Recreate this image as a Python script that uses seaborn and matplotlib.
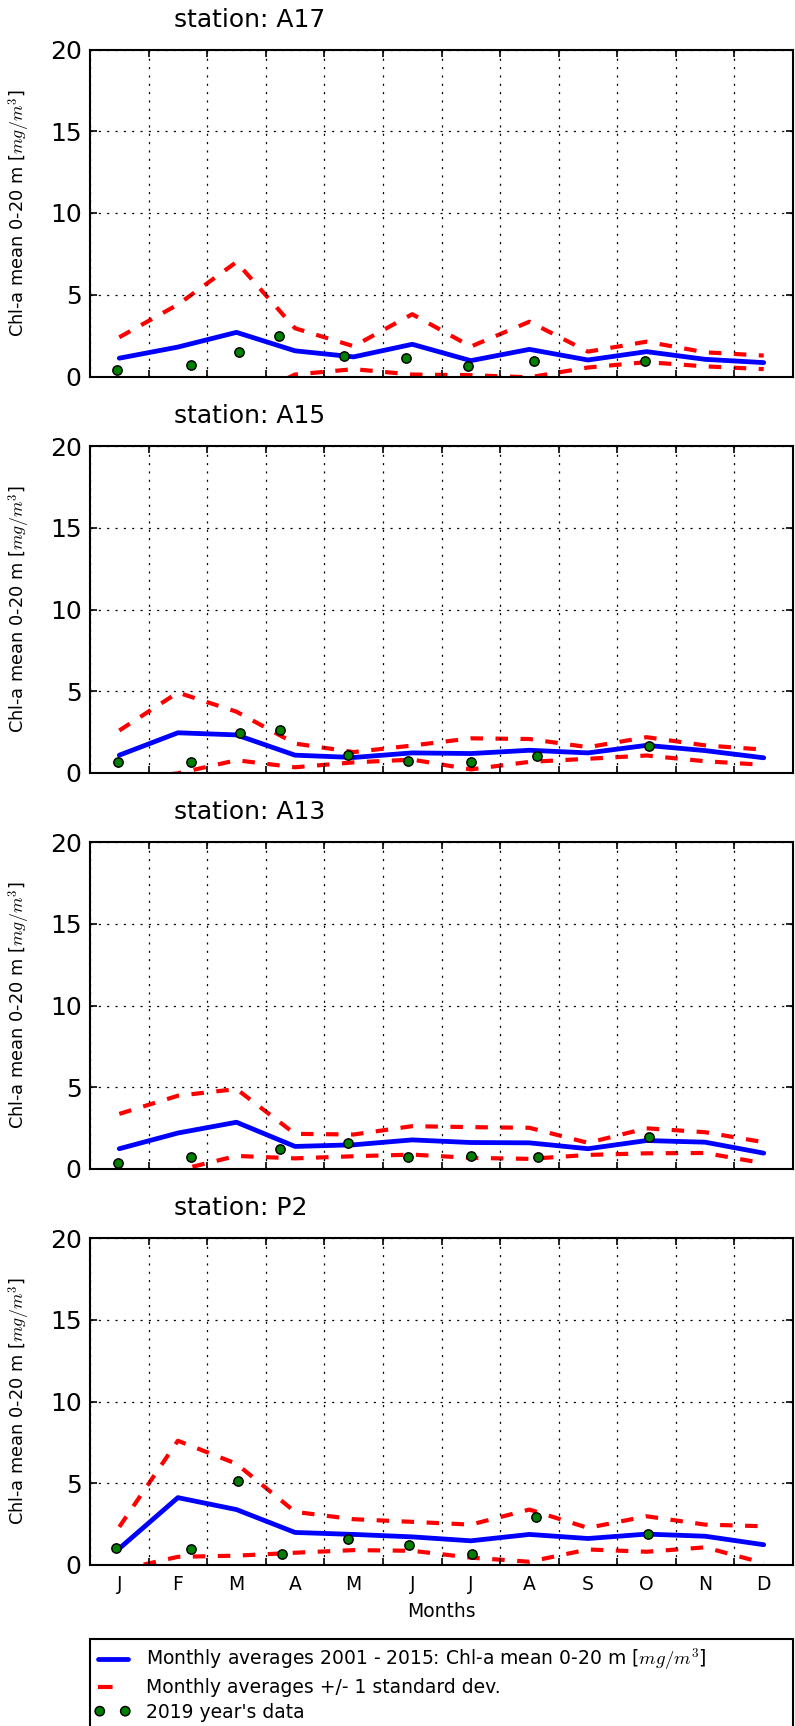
import numpy as np
import pandas as pd
import matplotlib
matplotlib.use("Agg")
import matplotlib.pyplot as plt
from matplotlib.collections import PathCollection
from matplotlib.legend_handler import HandlerPathCollection
import seaborn as sns

# ---------------- data ----------------
month_labels = ['J', 'F', 'M', 'A', 'M', 'J', 'J', 'A', 'S', 'O', 'N', 'D']
stations = ['A17', 'A15', 'A13', 'P2']

a17_mean = [1.12, 1.80, 2.70, 1.57, 1.20, 1.97, 0.97, 1.66, 1.01, 1.52, 1.05, 0.85]
a17_upper = [2.40, 4.40, 7.00, 2.95, 1.85, 3.81, 1.83, 3.35, 1.52, 2.13, 1.48, 1.28]
a17_lower = [-0.15, -0.80, -1.60, 0.12, 0.45, 0.12, 0.08, -0.05, 0.55, 0.88, 0.62, 0.45]
a17_obs_x = [0.46, 1.72, 2.54, 3.23, 4.34, 5.39, 6.46, 7.58, 9.47]
a17_obs_y = [0.41, 0.71, 1.48, 2.47, 1.26, 1.16, 0.67, 0.95, 0.97]

a15_mean = [1.09, 2.46, 2.33, 1.09, 0.95, 1.23, 1.19, 1.39, 1.23, 1.69, 1.37, 0.93]
a15_upper = [2.60, 4.92, 3.75, 1.80, 1.28, 1.68, 2.12, 2.08, 1.58, 2.19, 1.69, 1.43]
a15_lower = [-0.42, -0.02, 0.78, 0.35, 0.65, 0.82, 0.22, 0.68, 0.87, 1.07, 0.72, 0.50]
a15_obs_x = [0.47, 1.73, 2.56, 3.25, 4.41, 5.42, 6.50, 7.63, 9.54]
a15_obs_y = [0.69, 0.67, 2.44, 2.64, 1.13, 0.71, 0.65, 1.07, 1.65]

a13_mean = [1.24, 2.20, 2.86, 1.38, 1.48, 1.78, 1.62, 1.60, 1.24, 1.74, 1.64, 0.97]
a13_upper = [3.37, 4.48, 4.89, 2.15, 2.11, 2.62, 2.56, 2.52, 1.60, 2.49, 2.25, 1.64]
a13_lower = [-0.89, -0.08, 0.80, 0.65, 0.78, 0.88, 0.68, 0.62, 0.86, 0.96, 0.98, 0.35]
a13_obs_x = [0.47, 1.73, 3.25, 4.41, 5.42, 6.50, 7.64, 9.54]
a13_obs_y = [0.34, 0.71, 1.20, 1.56, 0.75, 0.77, 0.73, 1.95]

p2_mean = [1.01, 4.12, 3.39, 1.99, 1.87, 1.72, 1.48, 1.87, 1.62, 1.89, 1.76, 1.24]
p2_upper = [2.33, 7.60, 6.19, 3.25, 2.80, 2.64, 2.47, 3.39, 2.27, 2.98, 2.47, 2.37]
p2_lower = [-0.31, 0.50, 0.57, 0.75, 0.91, 0.87, 0.45, 0.20, 0.95, 0.81, 1.08, 0.12]
p2_obs_x = [0.44, 1.73, 2.52, 3.27, 4.40, 5.44, 6.52, 7.61, 9.52]
p2_obs_y = [1.01, 0.95, 5.13, 0.67, 1.60, 1.24, 0.67, 2.92, 1.87]

station_data = {
    'A17': (a17_mean, a17_upper, a17_lower, a17_obs_x, a17_obs_y),
    'A15': (a15_mean, a15_upper, a15_lower, a15_obs_x, a15_obs_y),
    'A13': (a13_mean, a13_upper, a13_lower, a13_obs_x, a13_obs_y),
    'P2': (p2_mean, p2_upper, p2_lower, p2_obs_x, p2_obs_y),
}

lbl_mean = 'Monthly averages 2001 - 2015: Chl-a mean 0-20 m [$mg/m^3$]'
lbl_sd = 'Monthly averages +/- 1 standard dev.'
lbl_obs = "2019 year's data"
ylabel = 'Chl-a mean 0-20 m [$mg/m^3$]'

# ---------------- style ----------------
sns.set_style('white')
plt.rcParams.update({
    'font.family': ['DejaVu Sans'],
    'mathtext.fontset': 'cm',
    'lines.scale_dashes': False,
    'lines.dashed_pattern': [6, 6],
    'lines.dotted_pattern': [1, 3],
    'axes.edgecolor': 'black',
    'axes.linewidth': 1.0,
    'xtick.direction': 'in',
    'ytick.direction': 'in',
    'xtick.top': True,
    'ytick.right': True,
    'xtick.bottom': True,
    'ytick.left': True,
    'xtick.color': 'black',
    'ytick.color': 'black',
    'text.color': 'black',
    'axes.labelcolor': 'black',
})

W, H = 795, 1726
fig = plt.figure(figsize=(W / 150, H / 150), dpi=150)

left = 90 / W
width = 703 / W
tops = [49.5, 446, 842, 1238]
ax_h = 327.0

month_pos = np.arange(len(month_labels)) + 0.5

axes = []
for i, st in enumerate(stations):
    top = tops[i]
    ax = fig.add_axes([left, 1 - (top + ax_h) / H, width, ax_h / H])
    axes.append(ax)
    mean, upper, lower, ox, oy = station_data[st]
    df = pd.DataFrame({'month': month_pos, 'mean': mean, 'upper': upper, 'lower': lower})
    obs = pd.DataFrame({'x': ox, 'y': oy})

    sns.lineplot(data=df, x='month', y='mean', ax=ax, color='#0000ff', lw=2.3,
                 label=lbl_mean, zorder=3)
    sns.lineplot(data=df, x='month', y='upper', ax=ax, color='#ff0000', lw=2.0,
                 linestyle='--', label=lbl_sd, zorder=2)
    sns.lineplot(data=df, x='month', y='lower', ax=ax, color='#ff0000', lw=2.0,
                 linestyle='--', label='_nolegend_', zorder=2)
    sns.scatterplot(data=obs, x='x', y='y', ax=ax, color='#008000', edgecolor='black',
                    linewidth=0.7, s=20, label=lbl_obs, zorder=4)

    if ax.get_legend() is not None:
        ax.get_legend().remove()

    ax.set_xlim(0, 12)
    ax.set_ylim(0, 20)
    ax.set_yticks([0, 5, 10, 15, 20])
    ax.set_xticks(np.arange(0, 13))
    ax.set_xticklabels([])
    ax.set_xticks(month_pos, minor=True)
    ax.set_xticklabels(month_labels, minor=True)
    ax.tick_params(which='minor', length=0, labelsize=9, pad=5)
    ax.tick_params(axis='x', which='major', length=3.5, width=0.8)
    ax.tick_params(axis='y', which='major', length=3.5, width=0.8, labelsize=12, pad=4)
    if i < len(stations) - 1:
        ax.tick_params(which='minor', labelbottom=False)
        ax.set_xlabel('')
    else:
        ax.set_xlabel('Months', fontsize=9, labelpad=3.5)

    ax.grid(True, which='major', linestyle=':', color='black', linewidth=0.6)
    ax.set_axisbelow(False)
    for sp in ax.spines.values():
        sp.set_visible(True)
        sp.set_color('black')
        sp.set_linewidth(1.0)

    ax.set_ylabel(ylabel, fontsize=8.5)
    ax.yaxis.set_label_coords(-0.083, 0.5)

    ax.annotate(f'station: {st}', xy=(0.1195, 1.0), xycoords='axes fraction',
                xytext=(0, 11), textcoords='offset points', ha='left', va='baseline',
                fontsize=12)

handles, labels = axes[-1].get_legend_handles_labels()
leg = fig.legend(handles, labels, loc='upper left',
                 bbox_to_anchor=(left, 1 - 1639 / H, width, 0), mode='expand',
                 borderaxespad=0, frameon=True, fancybox=False, edgecolor='black',
                 framealpha=1, fontsize=9, scatterpoints=2, scatteryoffsets=[0.5],
                 handlelength=1.6, handletextpad=1.0, borderpad=0.4,
                 labelspacing=0.3,
                 handler_map={PathCollection: HandlerPathCollection(marker_pad=0.12)})
leg.get_frame().set_linewidth(1.0)
for ln in leg.get_lines():
    if ln.get_linestyle() == '--':
        ln.set_dashes([7, 20])

fig.savefig('out.png', dpi=150)
